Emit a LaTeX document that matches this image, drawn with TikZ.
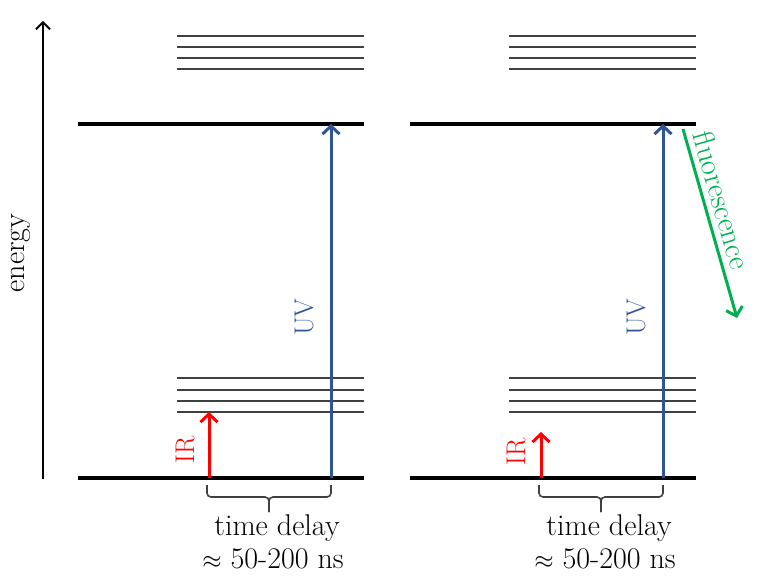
\documentclass[tikz,border=0pt]{standalone}
\usetikzlibrary{arrows.meta,calc}
\definecolor{uvblue}{HTML}{2F5597}
\definecolor{irred}{HTML}{FF0000}
\definecolor{flgreen}{HTML}{00B050}
\definecolor{levgray}{HTML}{404040}
\begin{document}
\begin{tikzpicture}[x=1pt,y=-1pt,
  thicklevel/.style={line width=4pt,black},
  thinlevel/.style={line width=1.4pt,levgray},
  photon/.style={line width=3pt,-{Straight Barb[length=8pt,width=17pt]}},
  lbl/.style={font=\fontsize{27}{30}\selectfont,inner sep=0pt},
  bigtxt/.style={font=\fontsize{30}{33}\selectfont,inner sep=0pt},
  delaybrace/.style={line width=1.6pt,levgray,rounded corners=4pt}]
\useasboundingbox (0,0) rectangle (757,577);
% energy axis
\coordinate (ax0) at (43,479);
\coordinate (ax1) at (43,21);
\draw[line width=1.8pt,-{Straight Barb[length=7pt,width=14pt]}] (ax0) -- (ax1);
\node[bigtxt,rotate=90] (energy) at (21,253) {energy};
% two panels
\foreach \dx/\irtop/\p in {0/412/L,332/432/R}{
  \draw[thicklevel] (78+\dx,124) -- (364+\dx,124);
  \draw[thicklevel] (78+\dx,478) -- (364+\dx,478);
  \foreach \y in {36,47,58,69,378,390,401,412}
    \draw[thinlevel] (177+\dx,\y) -- (364+\dx,\y);
  \coordinate (ir0\p) at (209+\dx,478);
  \coordinate (ir1\p) at (209+\dx,\irtop);
  \coordinate (uv0\p) at (331+\dx,478);
  \coordinate (uv1\p) at (331+\dx,124);
  \draw[photon,irred] (ir0\p) -- (ir1\p);
  \draw[photon,uvblue] (uv0\p) -- (uv1\p);
  \coordinate (b0\p) at (207+\dx,485);
  \coordinate (b1\p) at (331+\dx,485);
  \coordinate (bt\p) at (269+\dx,512);
  \draw[delaybrace] (b0\p) -- ++(0,12) -- ($(bt\p)+(0,-15)$) -- (bt\p);
  \draw[delaybrace] (b1\p) -- ++(0,12) -- ($(bt\p)+(0,-15)$) -- (bt\p);
  \node[bigtxt,anchor=base] (td\p) at (277+\dx,535) {time delay};
  \node[bigtxt,anchor=base] (ns\p) at (273+\dx,568) {$\approx$ 50-200 ns};
  \node[lbl,rotate=90,text=uvblue] (uvl\p) at (304+\dx,317) {UV};
}
\node[lbl,rotate=90,text=irred] (irlL) at (185,450) {IR};
\node[lbl,rotate=90,text=irred] (irlR) at (516,452) {IR};
% fluorescence
\coordinate (fl0) at (683,129);
\coordinate (fl1) at (737,318);
\draw[photon,flgreen] (fl0) -- (fl1);
\node[bigtxt,rotate=-74,text=flgreen] (fll) at (722,200) {fluorescence};
\end{tikzpicture}
\end{document}
